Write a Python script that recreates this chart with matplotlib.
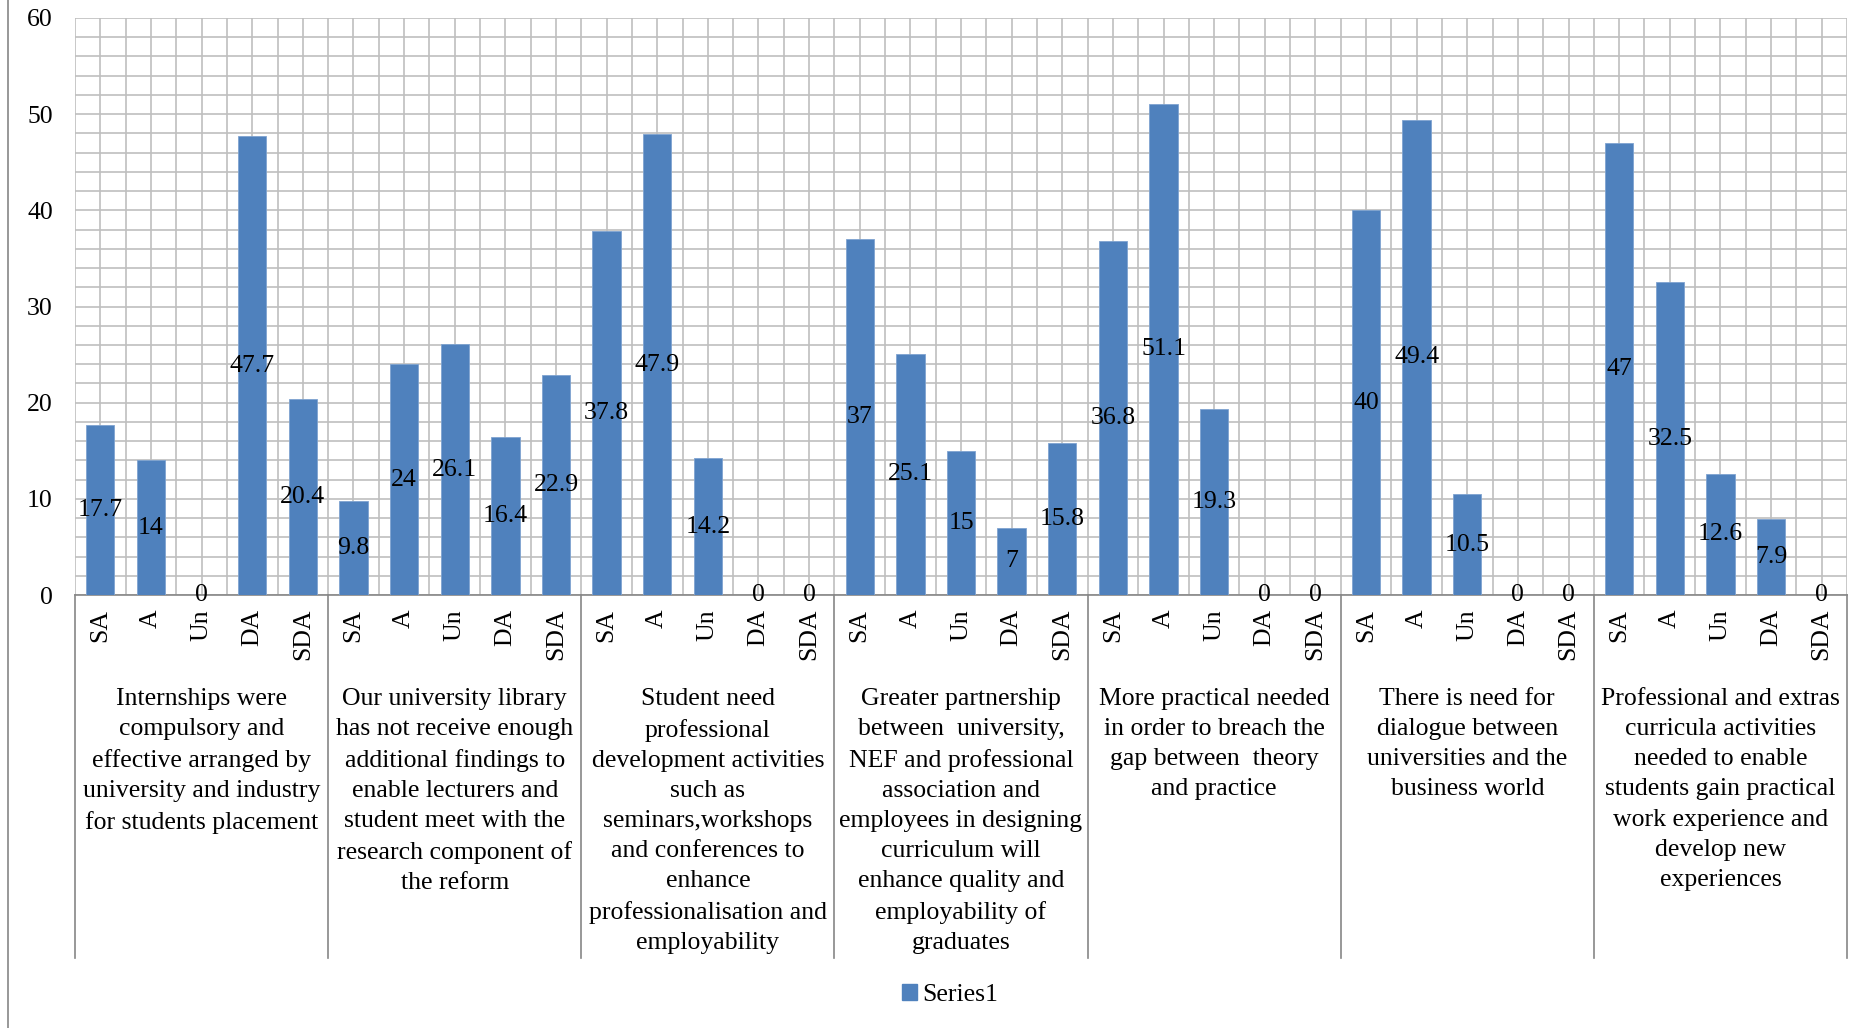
import numpy as np
import matplotlib as mpl
mpl.use('Agg')
from matplotlib import pyplot as plt
from matplotlib.patches import Patch
from matplotlib.lines import Line2D

plt.rcParams['font.family'] = ['Liberation Serif', 'DejaVu Serif']

levels = ["SA", "A", "Un", "DA", "SDA"]
groups = [
    "Internships were\ncompulsory and\neffective arranged by\nuniversity and industry\nfor students placement",
    "Our university library\nhas not receive enough\nadditional findings to\nenable lecturers and\nstudent meet with the\nresearch component of\nthe reform",
    "Student need\nprofessional\ndevelopment activities\nsuch as\nseminars,workshops\nand conferences to\nenhance\nprofessionalisation and\nemployability",
    "Greater partnership\nbetween  university,\nNEF and professional\nassociation and\nemployees in designing\ncurriculum will\nenhance quality and\nemployability of\ngraduates",
    "More practical needed\nin order to breach the\ngap between  theory\nand practice",
    "There is need for\ndialogue between\nuniversities and the\nbusiness world",
    "Professional and extras\ncurricula activities\nneeded to enable\nstudents gain practical\nwork experience and\ndevelop new\nexperiences",
]
g1 = [17.7, 14, 0, 47.7, 20.4]
g2 = [9.8, 24, 26.1, 16.4, 22.9]
g3 = [37.8, 47.9, 14.2, 0, 0]
g4 = [37, 25.1, 15, 7, 15.8]
g5 = [36.8, 51.1, 19.3, 0, 0]
g6 = [40, 49.4, 10.5, 0, 0]
g7 = [47, 32.5, 12.6, 7.9, 0]
values = g1 + g2 + g3 + g4 + g5 + g6 + g7
ticklabels = levels * len(groups)

W, H = 1874, 1028
fig = plt.figure(figsize=(W / 100, H / 100), dpi=100)
ax = fig.add_axes([75 / W, 1 - 595 / H, (1847 - 75) / W, (595 - 18) / H])

fs = 18.5
x = np.arange(len(values))
bars = ax.bar(x, values, width=0.56, color="#4F81BD", edgecolor="#7FA3D0", linewidth=0.6, zorder=3)
for xi, v in zip(x, values):
    ax.text(xi, v / 2, "%g" % v, ha="center", va="center", fontsize=fs, zorder=4)

ax.set_xlim(-0.5, len(values) - 0.5)
ax.set_ylim(0, 60)
ax.set_yticks(np.arange(0, 61, 10))
ax.set_yticks(np.arange(0, 61, 2), minor=True)
ax.set_xticks(x)
ax.set_xticklabels(ticklabels, rotation=90, fontsize=fs, va="top")
ax.set_xticks(np.arange(-0.5, len(values), 0.5), minor=True)
ax.tick_params(axis="both", which="both", length=0)
ax.tick_params(axis="x", pad=10)
ax.tick_params(axis="y", pad=16, labelsize=fs)
ax.grid(True, which="both", color="#BFBFBF", linewidth=1.2, zorder=0)
ax.set_axisbelow(True)
for s in ["top", "right", "left"]:
    ax.spines[s].set_visible(False)
ax.spines["bottom"].set_color("#868686")
ax.spines["bottom"].set_linewidth(1.2)

trans = mpl.transforms.blended_transform_factory(ax.transData, ax.transAxes)
for i in range(len(groups) + 1):
    ax.plot([i * 5 - 0.5] * 2, [0, -(958 - 595) / 577], transform=trans,
            color="#868686", linewidth=1.2, clip_on=False)
for i, g in enumerate(groups):
    ax.text(i * 5 + 2, -(688 - 595) / 577, g, transform=trans, ha="center", va="top",
            fontsize=fs, linespacing=1.48)

fig.add_artist(Line2D([8 / W, 8 / W], [0, 1], color="#868686", linewidth=1.2))

fig.legend(handles=[Patch(color="#4F81BD", label="Series1")], loc="center",
           bbox_to_anchor=(950 / W, 1 - 995 / H), frameon=False, fontsize=fs,
           handlelength=0.6, handleheight=0.6, handletextpad=0.2)

fig.savefig("out.png", dpi=100)
